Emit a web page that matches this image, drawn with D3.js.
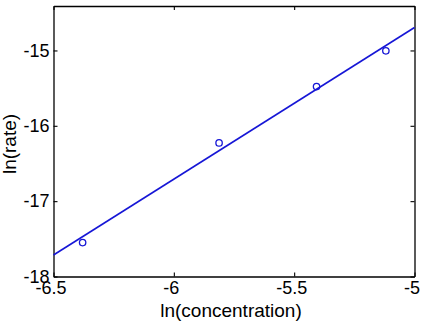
<!DOCTYPE html>
<html>
<head>
<meta charset="utf-8">
<script src="https://cdn.jsdelivr.net/npm/d3@7"></script>
<style>
  body { margin: 0; background: #fff; }
  text { font-family: "Liberation Sans", Arial, sans-serif; }
</style>
</head>
<body>
<div id="chart"></div>
<script>
// measured points
var lnConc = [-6.379, -5.812, -5.407, -5.119];
var lnRate = [-17.55, -16.227, -15.479, -15.005];
// fitted line end points
var fitX = [-6.5, -5];
var fitY = [-17.714, -14.696];
var xTicks = [-6.5, -6, -5.5, -5];
var yTicks = [-18, -17, -16, -15];

var W = 421, H = 324;
var margin = {top: 6, right: 6.5, bottom: 47.5, left: 53.5},
    width = W - margin.left - margin.right,
    height = H - margin.top - margin.bottom;

var svg = d3.select('#chart').append('svg')
    .attr('width', W).attr('height', H);

var g = svg.append('g')
    .attr('transform', 'translate(' + margin.left + ',' + margin.top + ')');

var x = d3.scaleLinear().domain([-6.5, -5]).range([0, width]);
var y = d3.scaleLinear().domain([-18, -14.41]).range([height, 0]);

// plain hyphen minus, no trailing zeros (like matlab)
var fmt = function(d){ return String(d); };

// box with inward ticks on all sides (matlab style)
var tl = 4;
var bottomAx = g.append('g').attr('transform', 'translate(0,' + height + ')')
    .call(d3.axisBottom(x).tickValues(xTicks).tickSizeInner(-tl).tickSizeOuter(0).tickPadding(5).tickFormat(fmt));
var topAx = g.append('g')
    .call(d3.axisTop(x).tickValues(xTicks).tickSizeInner(-tl).tickSizeOuter(0).tickFormat(''));
var leftAx = g.append('g')
    .call(d3.axisLeft(y).tickValues(yTicks).tickSizeInner(-tl).tickSizeOuter(0).tickPadding(4).tickFormat(fmt));
var rightAx = g.append('g').attr('transform', 'translate(' + width + ',0)')
    .call(d3.axisRight(y).tickValues(yTicks).tickSizeInner(-tl).tickSizeOuter(0).tickFormat(''));

g.selectAll('.domain').attr('stroke', '#000').attr('stroke-width', 1.3);
g.selectAll('.tick line').attr('stroke', '#000').attr('stroke-width', 1.1);
g.selectAll('.tick text').attr('font-size', 18).attr('fill', '#000')
    .attr('font-family', '"Liberation Sans", Arial, sans-serif');
// labels sit a little left of their ticks in the original
bottomAx.selectAll('.tick text').attr('dx', -3);

// fit line
var line = d3.line().x(function(d){ return x(d[0]); }).y(function(d){ return y(d[1]); });
g.append('path')
    .datum(d3.zip(fitX, fitY))
    .attr('fill', 'none')
    .attr('stroke', '#1616d6')
    .attr('stroke-width', 1.6)
    .attr('d', line);

// data points
g.selectAll('circle.pt')
    .data(d3.zip(lnConc, lnRate))
    .enter().append('circle')
    .attr('class', 'pt')
    .attr('cx', function(d){ return x(d[0]); })
    .attr('cy', function(d){ return y(d[1]); })
    .attr('r', 3.2)
    .attr('fill', 'none')
    .attr('stroke', '#1616d6')
    .attr('stroke-width', 1.3);

// axis labels
svg.append('text')
    .attr('x', margin.left + width / 2 - 3)
    .attr('y', 317)
    .attr('text-anchor', 'middle')
    .attr('font-size', 19)
    .text('ln(concentration)');

svg.append('text')
    .attr('transform', 'translate(16,144) rotate(-90)')
    .attr('text-anchor', 'middle')
    .attr('font-size', 19)
    .text('ln(rate)');
</script>
</body>
</html>
